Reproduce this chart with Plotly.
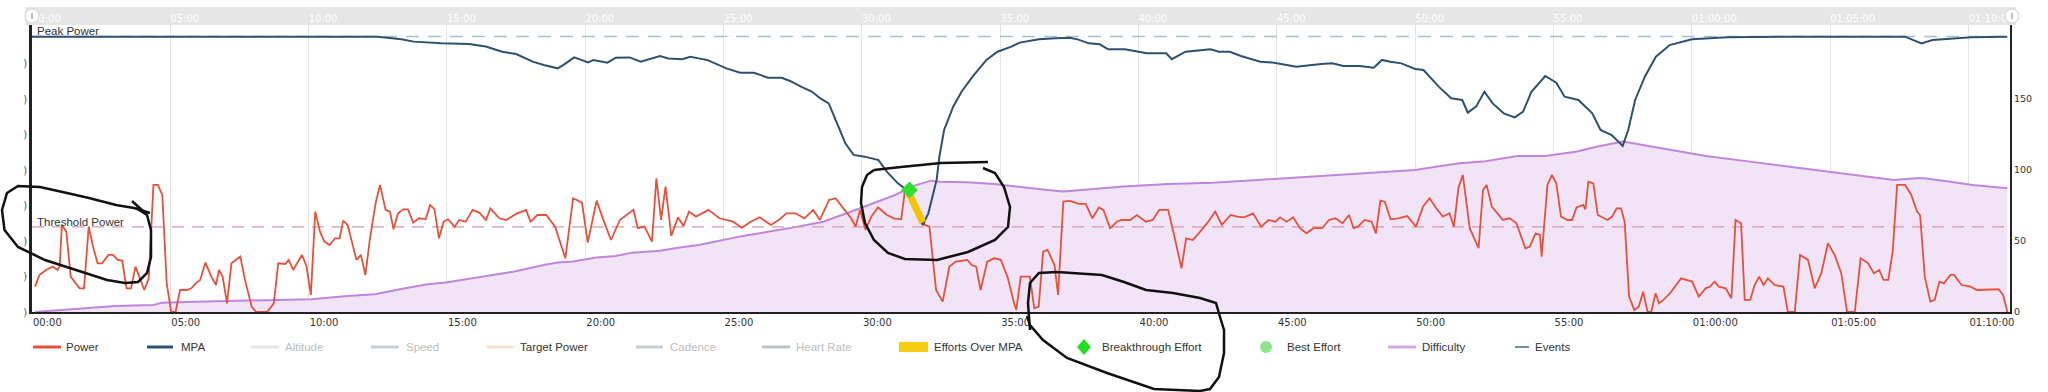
import plotly.graph_objects as go

# ---------------- data (minutes / watts-scale units) ----------------
power_t = [0.11, 0.27, 0.51, 0.75, 0.92, 1.0, 1.08, 1.24, 1.4, 1.72, 1.88, 2.05, 2.21, 2.37, 2.53, 2.77, 2.93,
           3.1, 3.26, 3.42, 3.58, 3.74, 3.9, 4.06, 4.22, 4.39, 4.55, 4.71, 4.87, 5.03, 5.19, 5.35, 5.6, 5.76,
           5.92, 6.08, 6.27, 6.48, 6.65, 6.76, 6.89, 7.05, 7.21, 7.53, 7.7, 7.94, 8.1, 8.5, 8.74, 8.9, 9.15,
           9.28, 9.44, 9.55, 9.76, 9.92, 10.08, 10.24, 10.41, 10.57, 10.76, 10.95, 11.12, 11.25, 11.41, 11.73,
           11.89, 12.05, 12.21, 12.42, 12.58, 12.78, 12.94, 13.07, 13.23, 13.42, 13.59, 13.78, 13.99, 14.23,
           14.39, 14.55, 14.71, 14.88, 15.04, 15.28, 15.44, 15.68, 15.93, 16.17, 16.41, 16.57, 16.89, 17.14,
           17.54, 17.86, 18.02, 18.27, 18.59, 18.91, 19.07, 19.28, 19.56, 19.88, 20.09, 20.41, 20.61, 20.93,
           21.25, 21.74, 21.9, 22.14, 22.41, 22.57, 22.74, 22.9, 23.11, 23.35, 23.55, 23.75, 24.0, 24.45,
           24.85, 25.34, 25.66, 25.98, 26.3, 26.71, 27.03, 27.27, 27.6, 27.92, 28.24, 28.48, 28.81, 29.05,
           29.37, 29.61, 29.77, 29.93, 30.13, 30.34, 30.58, 30.9, 31.15, 31.42, 31.55, 31.7, 31.9, 32.1,
           32.27, 32.44, 32.68, 32.92, 33.16, 33.4, 33.81, 33.97, 34.13, 34.29, 34.53, 34.78, 35.02, 35.26,
           35.5, 35.58, 35.74, 36.07, 36.23, 36.39, 36.55, 36.71, 36.96, 37.09, 37.28, 37.52, 37.84, 38.09,
           38.33, 38.57, 38.73, 38.97, 39.22, 39.38, 39.7, 39.94, 40.26, 40.51, 40.75, 41.07, 41.31, 41.55,
           41.72, 41.96, 42.28, 42.52, 42.77, 43.01, 43.33, 43.57, 43.82, 44.14, 44.43, 44.7, 44.95, 45.11,
           45.35, 45.59, 45.83, 46.07, 46.32, 46.64, 46.88, 47.12, 47.37, 47.61, 47.77, 47.93, 48.17, 48.42,
           48.58, 48.74, 48.9, 49.11, 49.39, 49.71, 50.03, 50.28, 50.52, 50.76, 51.0, 51.24, 51.4, 51.56,
           51.72, 51.97, 52.29, 52.45, 52.58, 52.77, 53.17, 53.41, 53.66, 53.98, 54.14, 54.35, 54.51, 54.57,
           54.78, 54.94, 55.1, 55.27, 55.51, 55.67, 55.83, 56.07, 56.15, 56.26, 56.44, 56.6, 56.95, 57.12,
           57.28, 57.44, 57.57, 57.73, 57.92, 58.08, 58.24, 58.4, 58.53, 58.69, 58.81, 58.97, 59.21, 59.61,
           60.01, 60.25, 60.5, 60.66, 60.82, 60.98, 61.22, 61.43, 61.58, 61.78, 61.91, 62.11, 62.27, 62.43,
           62.59, 62.75, 62.99, 63.31, 63.47, 63.72, 63.91, 64.2, 64.44, 64.68, 64.92, 65.16, 65.4, 65.61,
           65.89, 66.1, 66.37, 66.58, 66.77, 66.93, 67.1, 67.26, 67.42, 67.71, 67.93, 68.14, 68.25, 68.42,
           68.62, 68.78, 68.95, 69.11, 69.35, 69.48, 69.75, 70.07, 70.31, 70.8, 71.09, 71.25, 71.41]
power_w = [17.9, 26.1, 29.6, 32, 29.6, 32, 61.3, 56.6, 24.9, 16.7, 16.7, 60.1, 46, 34.3, 34.3, 40.2, 40.2,
           36.7, 36.2, 16.7, 16.7, 32, 23.7, 15.5, 23.7, 89.5, 89.5, 82.4, 20.2, 0, 0, 15.5, 15.5, 16.7,
           20.2, 22.6, 34.8, 24.9, 19, 29.6, 24.9, 6.1, 34.3, 39, 22.6, 3.8, 0, 0, 6.1, 34.3, 33.8,
           36.7, 29.6, 33.1, 40.2, 32.4, 12, 70.7, 56.6, 49.6, 47.2, 51.9, 51.9, 64.3, 61.3, 36.7,
           40.2, 26.1, 50.7, 76.6, 89.5, 71.9, 70.7, 58.2, 69.5, 72.3, 72.3, 62.9, 66, 65.3,
           75.4, 72.3, 51.9, 63.6, 65.3, 60.1, 64.8, 63.6, 71.9, 70, 64.8, 73, 66, 64.8,
           69.5, 71.9, 63.6, 68.3, 68.3, 60.1, 50.7, 37.8, 80.1, 77, 48.9, 78.4, 67.2, 50.7,
           64.8, 71.9, 59, 60.1, 49.6, 94.2, 64.8, 88.3, 53.6, 66.7, 60.6, 70.7, 67.2, 71.9,
           66, 63.6, 59.4, 63.6, 66.7, 61.3, 65.3, 69.5, 69.5, 66, 71.9, 64.8, 78.9, 80.1,
           71.9, 66, 60.1, 71.9, 57.8, 67.2, 73.7, 68.3, 66, 65.3, 85, 84, 76, 67,
           61.3, 60.1, 15.5, 7.3, 32, 35.5, 36.7, 33.1, 32, 15.5, 35.5, 37.8, 36.7, 24.9,
           6.1, 1.4, 24.9, 24.9, 2.6, 3.8, 42.5, 43.7, 33.1, 12, 77.7, 78.2, 76.1, 76.1,
           66, 73.7, 71.9, 59, 63.6, 64.8, 64.8, 68.3, 63.6, 64.8, 71.9, 71.9, 51.9, 30.8,
           51.9, 50.7, 57.8, 63.6, 70.7, 61.3, 68.3, 67.2, 66.7, 69.5, 60.1, 64.8, 63.6, 66.7,
           63.6, 66.7, 59, 55.4, 59, 59, 64.8, 66, 62.5, 68.3, 59, 60.1, 64.8, 63.6,
           55.4, 78.4, 77.7, 65.3, 66, 67.6, 60.1, 74.2, 80.1, 73, 67.2, 69.5, 60.1, 87.1,
           96.5, 59, 44.9, 85.9, 89.5, 74.2, 64.8, 66, 62.5, 44.9, 46, 55.4, 54.3, 39,
           89.5, 96.5, 90.6, 67.2, 64.8, 64.8, 73.7, 75.4, 72.3, 91.8, 90.6, 68.3, 64.8, 67.2,
           73, 73, 63.6, 10.8, 1.4, 3.8, 14.3, 0, 0, 13.2, 6.1, 8.5, 13.2, 23.7,
           21.4, 10.8, 16.7, 17.9, 21.4, 17.9, 16.7, 9.7, 64.8, 62.5, 8.5, 8.5, 19, 24.9,
           19, 23.7, 19, 17.9, 0, 0, 40.2, 36.7, 16.7, 27.3, 48.4, 40.2, 27.3, 0,
           0, 37.8, 34.3, 27.3, 29.6, 22.6, 22.6, 42.5, 89.5, 89.5, 82.4, 70.7, 68.3, 24.9,
           7.3, 8.5, 21.4, 20.2, 26.1, 26.1, 19, 17.9, 15.5, 15.5, 16, 12, 0]

mpa_t = [0, 12.5, 13.35, 13.8, 14.8, 15.8, 16.4, 17.0, 17.5, 18.1, 18.5, 19.0, 19.2, 19.6, 20.1, 20.3, 20.8,
         21.1, 21.6, 22.0, 22.7, 23.0, 23.5, 23.8, 24.1, 24.4, 25.1, 25.6, 26.1, 26.6, 27.1, 27.4, 27.8, 28.2,
         28.5, 28.8, 29.2, 29.4, 29.7, 30.1, 30.6, 30.9, 31.3, 31.7, 32.0, 32.2, 32.4, 32.7, 32.8, 32.97,
         33.3, 33.6, 34.0, 34.5, 34.9, 35.4, 35.7, 36.4, 37.0, 37.5, 37.8, 38.2, 38.6, 38.9, 39.5, 40.0,
         40.3, 41.0, 41.2, 41.7, 42.6, 42.9, 43.3, 43.7, 44.4, 44.9, 45.7, 46.6, 47.0, 47.4, 48.0, 48.5,
         48.8, 49.1, 49.5, 50.0, 50.3, 50.85, 51.3, 51.7, 51.9, 52.2, 52.5, 52.8, 53.2, 53.6, 53.9, 54.2,
         54.7, 55.1, 55.4, 55.9, 56.4, 56.7, 57.1, 57.5, 57.7, 57.95, 58.3, 58.7, 59.2, 60.0, 61.3, 63.7,
         67.7, 68.3, 68.7, 70.1, 71.4]
mpa_w = [193.9, 193.9, 192, 190.4, 189.2, 188.7, 186.9, 183.3, 181.7, 176.3, 173.9, 171.6, 173.9, 179.3, 175.8,
         177.5, 175.6, 179.1, 179.3, 176.3, 180.3, 178.6, 178, 179.8, 178.6, 177.5, 171.6, 168.5, 168.5, 165,
         165, 162.7, 158.7, 155.1, 150.4, 146.9, 128.2, 118.8, 110.6, 109.4, 107, 98.8, 90.6, 84.7, 69.5,
         61.3, 69.5, 93, 109.4, 128.2, 144.6, 155.1, 165.7, 177.5, 183.3, 186.9, 189.7, 192, 192.7, 193.2,
         192, 189.2, 188.5, 185, 185, 183.3, 182.2, 182.2, 178, 183.3, 185, 183.3, 183.3, 180.3, 176.3,
         175.6, 172.8, 174.6, 175.1, 173.2, 173.2, 172, 177.5, 176.3, 175.1, 171.1, 170.4, 158.7, 150.5,
         149.3, 140.4, 144.6, 155.1, 146.9, 139.9, 137.1, 141.1, 155.1, 166.2, 161.5, 151.6, 149.3, 139.9,
         128.2, 124.6, 117, 128.2, 149.3, 165.7, 179.8, 188, 192, 193.4, 193.9, 193.9, 189.2, 191.5, 193.4,
         193.9]

diff_t = [0.11, 2.05, 3.0, 4.39, 4.7, 5.92, 7.86, 8.9, 10.1, 11.4, 12.4, 13.3, 14.3, 14.96, 15.9, 17.4, 18.5,
          19.0, 19.56, 20.4, 21.1, 21.7, 22.7, 23.35, 24.1, 25.7, 27.35, 28.6, 29.45, 30.26, 31.2, 31.87,
          32.5, 32.84, 33.8, 34.78, 35.74, 36.71, 37.28, 38.17, 39.46, 41.07, 42.68, 44.3, 45.9, 47.5, 48.8,
          50.0, 50.8, 51.6, 52.45, 53.7, 54.7, 55.8, 56.6, 57.5, 58.9, 60.5, 62.1, 63.7, 65.3, 66.3, 67.3,
          68.1, 68.4, 69.35, 70.15, 71.4]
diff_v = [0, 2.6, 4.3, 5, 6.6, 7.3, 8, 8.2, 9, 11.3, 12.5, 16, 19.5, 20.7, 23.7, 28.4, 33.1,
          34.8, 35.5, 38.3, 39.5, 41.8, 43.2, 45.3, 47.2, 53.6, 58.9, 63.6, 69.5, 75.4, 82.4, 88.8,
          92.5, 91.8, 91.3, 90.2, 87.8, 85.9, 84.8, 86.4, 88.3, 90.2, 91.1, 93, 94.9, 96.5, 98.2,
          100, 102.4, 104.7, 105.9, 109.9, 109.9, 112.9, 116.5, 120, 115.3, 109.9, 105.9, 101.9, 97.7, 95.3, 93,
          94.2, 94.2, 91.8, 89.5, 87.1]

effort_t = [31.62, 31.8, 31.95, 32.08, 32.2]
effort_w = [87, 80, 74, 68, 63]
breakthrough_t = [31.72]
breakthrough_w = [86]

threshold_power = 60
peak_power = 194

tick_minutes = [0, 5, 10, 15, 20, 25, 30, 35, 40, 45, 50, 55, 60, 65, 70]
tick_labels = ["00:00", "05:00", "10:00", "15:00", "20:00", "25:00", "30:00", "35:00", "40:00",
               "45:00", "50:00", "55:00", "01:00:00", "01:05:00", "01:10:00"]
right_ticks = [0, 50, 100, 150]
left_ticks = [0, 25, 50, 75, 100, 125, 150, 175]

legend_labels = ["Power", "MPA", "Altitude", "Speed", "Target Power", "Cadence", "Heart Rate",
                 "Efforts Over MPA", "Breakthrough Effort", "Best Effort", "Difficulty", "Events"]

# ---------------- layout geometry / styles ----------------
W, H = 2048, 392
L, R, T, B = 32, 2010, 25, 312
X_MAX = 71.5
Y_MAX = (B - T) / 1.42

C_POWER = "#e5513b"
C_MPA = "#2e5070"
C_DIFF = "#bf86dc"
C_FILL = "#f2e4f7"


def px(x):
    return (x - L) / (R - L)


def py(y):
    return (B - y) / (B - T)


def path_from(points, close=False):
    s = "M " + " L ".join(f"{px(x):.5f},{py(y):.5f}" for x, y in points)
    return s + (" Z" if close else "")


fig = go.Figure()
fig.add_trace(go.Scatter(x=diff_t, y=diff_v, mode="lines", line=dict(color=C_DIFF, width=2),
                         fill="tozeroy", fillcolor=C_FILL, hoverinfo="skip", name="Difficulty"))
fig.add_trace(go.Scatter(x=[0, X_MAX], y=[threshold_power] * 2, mode="lines",
                         line=dict(color="#d59aae", width=1.3, dash="12px,8px"), name="Threshold Power"))
fig.add_trace(go.Scatter(x=[0, X_MAX], y=[peak_power] * 2, mode="lines",
                         line=dict(color="#a9c0cd", width=1.5, dash="13px,9px"), name="Peak Power"))
fig.add_trace(go.Scatter(x=power_t, y=power_w, mode="lines", line=dict(color=C_POWER, width=1.8), name="Power"))
fig.add_trace(go.Scatter(x=mpa_t, y=mpa_w, mode="lines", line=dict(color=C_MPA, width=2), name="MPA"))
fig.add_trace(go.Scatter(x=effort_t, y=effort_w, mode="lines", line=dict(color="#f5c400", width=7),
                         name="Efforts Over MPA"))
fig.add_trace(go.Scatter(x=breakthrough_t, y=breakthrough_w, mode="markers",
                         marker=dict(symbol="diamond", size=13, color="#2fe02f"), name="Breakthrough Effort"))
fig.add_trace(go.Scatter(x=[0], y=[0], xaxis="x2", yaxis="y2", mode="markers",
                         marker=dict(opacity=0), hoverinfo="skip", showlegend=False))

shapes = []
annotations = []

# navigator band at the top
shapes.append(dict(type="rect", xref="paper", yref="paper", x0=px(25), x1=px(2016), y0=py(25), y1=py(7),
                   fillcolor="#e6e6e6", line=dict(width=0), layer="below"))
for hx in (32, 2012):
    shapes.append(dict(type="circle", xref="paper", yref="paper", x0=px(hx - 7), x1=px(hx + 7),
                       y0=py(23), y1=py(9), fillcolor="white", line=dict(color="#d0d0d0", width=1),
                       layer="above"))
    shapes.append(dict(type="line", xref="paper", yref="paper", x0=px(hx), x1=px(hx), y0=py(19), y1=py(13),
                       line=dict(color="#aaaaaa", width=1.5), layer="above"))

# reference line labels
annotations.append(dict(x=px(35), y=py(31), xref="paper", yref="paper", text="Peak Power", showarrow=False,
                        xanchor="left", yanchor="middle", font=dict(family="Liberation Sans", size=11.5, color="#333")))
annotations.append(dict(x=px(35), y=py(222), xref="paper", yref="paper", text="Threshold Power", showarrow=False,
                        xanchor="left", yanchor="middle", font=dict(family="Liberation Sans", size=11.5, color="#333")))

# legend (drawn manually to match positions)
LEG_Y = 347
legend_style = [
    ("line", 33, 61, C_POWER, 3, "#333"),
    ("line", 147, 173, C_MPA, 3, "#333"),
    ("line", 251, 279, "#e6e6e6", 3, "#bdbdbd"),
    ("line", 371, 399, "#c9d1d6", 3, "#bdbdbd"),
    ("line", 487, 513, "#f5e1d0", 3, "#333"),
    ("line", 636, 663, "#c5cdcd", 3, "#bdbdbd"),
    ("line", 762, 790, "#bcc4c8", 3, "#bdbdbd"),
    ("rect", 899, 928, "#f7cd12", 0, "#333"),
    ("diamond", 1077, 1091, "#22dd22", 0, "#333"),
    ("circle", 1260, 1272, "#8fe38f", 0, "#333"),
    ("line", 1388, 1416, "#d2a8e4", 3, "#333"),
    ("line", 1515, 1529, "#3f6b6b", 1.5, "#333"),
]
text_x = [64, 179, 283, 404, 518, 668, 794, 932, 1100, 1285, 1420, 1533]
for label, (kind, a, b, col, lw, tcol), tx in zip(legend_labels, legend_style, text_x):
    if kind == "line":
        shapes.append(dict(type="line", xref="paper", yref="paper", x0=px(a), x1=px(b), y0=py(LEG_Y), y1=py(LEG_Y),
                           line=dict(color=col, width=lw)))
    elif kind == "rect":
        shapes.append(dict(type="rect", xref="paper", yref="paper", x0=px(a), x1=px(b), y0=py(LEG_Y + 5),
                           y1=py(LEG_Y - 5), fillcolor=col, line=dict(width=0)))
    elif kind == "diamond":
        c = (a + b) / 2
        shapes.append(dict(type="path", xref="paper", yref="paper",
                           path=path_from([(c, LEG_Y - 8), (b, LEG_Y), (c, LEG_Y + 8), (a, LEG_Y)], close=True),
                           fillcolor=col, line=dict(width=0)))
    elif kind == "circle":
        shapes.append(dict(type="circle", xref="paper", yref="paper", x0=px(a), x1=px(b), y0=py(LEG_Y + 6),
                           y1=py(LEG_Y - 6), fillcolor=col, line=dict(width=0)))
    annotations.append(dict(x=px(tx), y=py(LEG_Y), xref="paper", yref="paper", text=label, showarrow=False,
                            xanchor="left", yanchor="middle",
                            font=dict(family="Liberation Sans", size=11.5, color=tcol)))

# hand-drawn pen marks on the screenshot
pen = dict(color="#111111", width=2.5)
pen_marks = [
    ([(150, 213), (134, 208), (116, 205), (89, 198), (67, 193), (40, 187), (18, 186), (7, 193), (2, 210),
      (4.5, 230), (18, 247), (45, 260), (76, 270), (107, 280), (125, 283), (138, 282), (147, 273), (151, 257),
      (151, 230), (147, 215), (136, 208)], False),
    ([(132, 201), (143, 211)], False),
    ([(874, 170), (901, 167), (941, 163), (988, 162)], False),
    ([(983, 168), (995, 173), (1004, 187), (1010, 207), (1008, 227), (995, 240), (968, 252), (937, 260),
      (905, 259), (888, 253), (874, 240), (865, 223), (861, 203), (862, 187), (867, 175), (874, 170)], False),
    ([(1030, 330), (1028, 303), (1030, 283), (1039, 273), (1057, 272), (1102, 275), (1124, 282), (1146, 290),
      (1173, 293), (1200, 298), (1216, 303), (1220, 317), (1224, 330), (1224, 353), (1219, 377), (1210, 389),
      (1200, 391), (1154, 389), (1107, 373), (1067, 358), (1043, 340), (1030, 325), (1027, 316)], False),
]
for pts, closed in pen_marks:
    shapes.append(dict(type="path", xref="paper", yref="paper", path=path_from(pts, closed),
                       line=pen, layer="above"))

fig.update_layout(
    width=W, height=H,
    margin=dict(l=L, r=W - R, t=T, b=H - B, pad=0, autoexpand=False),
    paper_bgcolor="white", plot_bgcolor="white", showlegend=False,
    font=dict(family="DejaVu Sans", size=10, color="#333"),
    xaxis=dict(range=[0, X_MAX], tickvals=tick_minutes, ticktext=tick_labels, ticklabelposition="outside right",
               showgrid=True, gridcolor="#e3e3e3", gridwidth=1, showline=True, linecolor="#222", linewidth=2,
               zeroline=False, ticks="", tickfont=dict(size=10, color="#333")),
    xaxis2=dict(overlaying="x", side="top", range=[0, X_MAX], tickvals=tick_minutes, ticktext=tick_labels,
                ticklabelposition="outside right", showgrid=False, showline=False, zeroline=False, ticks="",
                tickfont=dict(size=10, color="white")),
    yaxis=dict(range=[0, Y_MAX], tickvals=left_ticks, ticktext=[")"] * len(left_ticks), showgrid=False,
               zeroline=False, showline=True, linecolor="#222", linewidth=2.5, ticks="",
               tickfont=dict(size=10, color="#555")),
    yaxis2=dict(overlaying="y", side="right", range=[0, Y_MAX], tickvals=right_ticks, showgrid=False,
                zeroline=False, showline=True, linecolor="#222", linewidth=2, ticks="",
                tickfont=dict(size=9.5, color="#333")),
    shapes=shapes, annotations=annotations,
)

fig.write_html("out.html", config={"displayModeBar": False},
               post_script="document.body.style.margin='0';document.body.style.overflow='hidden';")
